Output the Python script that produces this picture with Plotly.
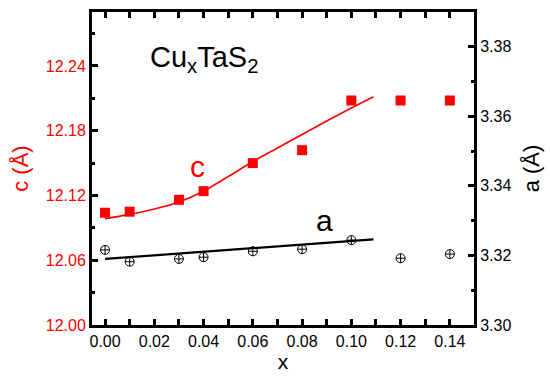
import plotly.graph_objects as go

# Cu_x TaS2 lattice parameters versus copper content x
x_vals = [0.00, 0.01, 0.03, 0.04, 0.06, 0.08, 0.10, 0.12, 0.14]
c_vals = [12.104, 12.105, 12.116, 12.124, 12.150, 12.162, 12.208, 12.208, 12.208]
a_vals = [3.3216, 3.3182, 3.3190, 3.3195, 3.3212, 3.3218, 3.3244, 3.3192, 3.3204]

# guide-to-the-eye fit curves
c_fit_x = [0.000, 0.010, 0.020, 0.030, 0.040, 0.050, 0.060, 0.070, 0.080, 0.090, 0.100, 0.109]
c_fit_y = [12.0985, 12.1025, 12.1075, 12.1140, 12.1240, 12.1375, 12.1515, 12.1640, 12.1765,
           12.1890, 12.2010, 12.2115]
a_fit_x = [0.000, 0.109]
a_fit_y = [3.3190, 3.3246]

FONT = "Arial, 'Liberation Sans', sans-serif"
RED = "#ff0000"

fig = go.Figure()

fig.add_trace(go.Scatter(
    x=c_fit_x, y=c_fit_y, mode="lines",
    line=dict(color=RED, width=1.6, shape="spline", smoothing=0.6),
    yaxis="y", showlegend=False, hoverinfo="skip"))
fig.add_trace(go.Scatter(
    x=x_vals, y=c_vals, mode="markers",
    marker=dict(symbol="square", color=RED, size=10, line=dict(width=0)),
    yaxis="y", showlegend=False))

fig.add_trace(go.Scatter(
    x=a_fit_x, y=a_fit_y, mode="lines", line=dict(color="black", width=2.2),
    yaxis="y2", showlegend=False, hoverinfo="skip"))
fig.add_trace(go.Scatter(
    x=x_vals, y=a_vals, mode="markers",
    marker=dict(symbol="circle-cross-open", color="black", size=9, line=dict(width=1)),
    yaxis="y2", showlegend=False))

axis_common = dict(
    showline=True, linecolor="black", linewidth=3,
    ticks="inside", ticklen=6, tickwidth=2.5, tickcolor="black",
    showgrid=False, zeroline=False,
)

fig.update_layout(
    width=550, height=380,
    margin=dict(l=92, r=75, t=9, b=53),
    paper_bgcolor="white", plot_bgcolor="white",
    font=dict(family=FONT, size=16, color="black"),
    xaxis=dict(
        **axis_common, mirror="allticks",
        range=[-0.0053, 0.1498], tick0=0, dtick=0.02, tickformat=".2f",
        minor=dict(dtick=0.01, ticks="inside", ticklen=3, tickwidth=2.5, tickcolor="black"),
        tickfont=dict(size=16, color="black"),
        title=dict(text="x", font=dict(size=21, color="black"), standoff=6),
    ),
    yaxis=dict(
        **axis_common, mirror=False,
        range=[12.0, 12.29], tick0=12.0, dtick=0.06, tickformat=".2f",
        minor=dict(dtick=0.03, ticks="inside", ticklen=3, tickwidth=2.5, tickcolor="black"),
        tickfont=dict(size=16, color=RED),
        title=dict(text="c (Å)", font=dict(size=22, color=RED), standoff=12),
    ),
    yaxis2=dict(
        **axis_common, overlaying="y", side="right", anchor="x",
        range=[3.30, 3.39], tick0=3.30, dtick=0.02, tickformat=".2f",
        minor=dict(dtick=0.01, ticks="inside", ticklen=3, tickwidth=2.5, tickcolor="black"),
        tickfont=dict(size=16, color="black"),
        title=dict(text="a (Å)", font=dict(size=22, color="black"), standoff=14),
    ),
    annotations=[
        dict(text="Cu<sub>x</sub>TaS<sub>2</sub>", xref="paper", yref="paper",
             x=0.147, y=0.85, xanchor="left", yanchor="middle", showarrow=False,
             font=dict(size=29, color="black")),
        dict(text="c", xref="x", yref="y", x=0.0375, y=12.147,
             xanchor="center", yanchor="middle", showarrow=False,
             font=dict(size=30, color=RED)),
        dict(text="a", xref="x", yref="y2", x=0.0890, y=3.3300,
             xanchor="center", yanchor="middle", showarrow=False,
             font=dict(size=30, color="black")),
    ],
)

fig.write_html("out.html")
